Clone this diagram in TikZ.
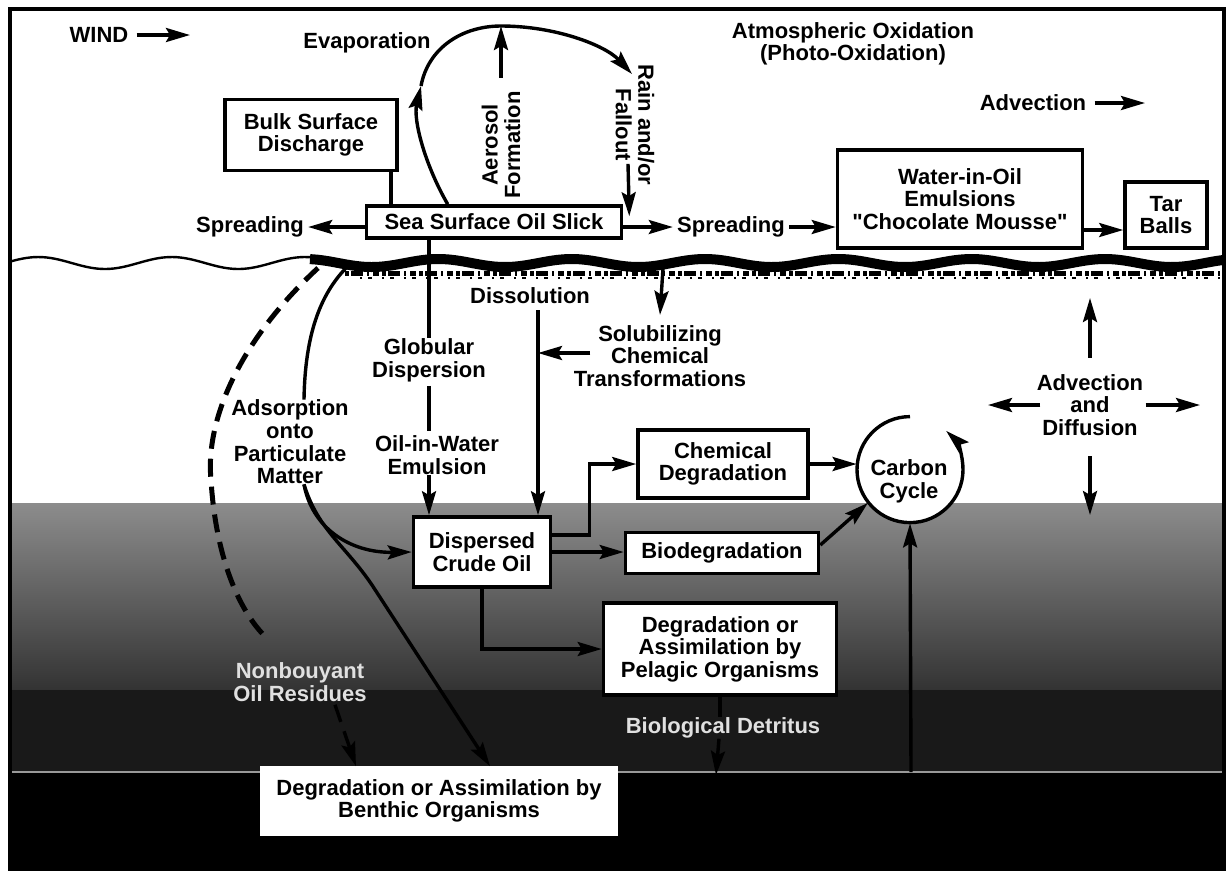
\documentclass[tikz,border=0pt]{standalone}
\usepackage{fontspec}
\setmainfont{Liberation Sans}[Ligatures=TeXOff]
\usetikzlibrary{arrows.meta,calc}

\tikzset{
  box/.style={draw, fill=white, line width=1.8pt, inner sep=0pt, align=center},
  lbl/.style={inner sep=0pt, align=center},
  ghost/.style={lbl, text=white!88!black},
  ln/.style={line width=1.7pt},
  arr/.style={ln, -{Stealth[length=12pt,width=7pt,inset=2pt]}},
}

\begin{document}
\begin{tikzpicture}[x=0.5pt,y=-0.5pt,font=\bfseries\fontsize{11}{11.3}\selectfont]
  \useasboundingbox (0,0) rectangle (1230,875);

  % water column, darker with depth
  \shade[top color=black!45, bottom color=black!80] (10,503) rectangle (1224,690);
  \fill[black!90] (10,690) rectangle (1224,772);
  \fill[black] (10,772) rectangle (1224,869);
  \draw[white!60!black, line width=0.6pt] (10,772) -- (1224,772);

  % sea surface and oil film
  \draw[line width=1.2pt] plot[smooth, domain=10:320, samples=40] (\x,{263-6*sin(2.7*(\x-5))});
  \draw[line width=5pt] plot[smooth, domain=310:1224, samples=120] (\x,{263-4*sin(2.7*(\x-5))});
  \draw[line width=2.5pt, dash pattern=on 2pt off 1pt on 6pt off 2pt on 1pt off 2pt on 3pt off 1.5pt] (345,273) -- (1224,273);
  \draw[line width=1.2pt, dash pattern=on 1pt off 3pt on 2pt off 5pt] (360,278) -- (1224,278);

  % labels
  \node[lbl] (wind) at (99,35) {WIND};
  \node[lbl] (evap) at (367,43) {Evaporation};
  \node[lbl,rotate=90] (aerosol) at (501,145) {Aerosol\\Formation};
  \node[lbl,rotate=-90] (rain) at (635,125) {Rain and/or\\Fallout};
  \node[lbl] (atmox) at (853,44) {Atmospheric Oxidation\\(Photo-Oxidation)};
  \node[lbl] (advtop) at (1033,103) {Advection};
  \node[lbl] (spreadL) at (250,227) {Spreading};
  \node[lbl] (spreadR) at (731,227) {Spreading};
  \node[lbl] (dissol) at (530,296) {Dissolution};
  \node[lbl] (glob) at (429,360) {Globular\\Dispersion};
  \node[lbl] (oilw) at (437,455) {Oil-in-Water\\Emulsion};
  \node[lbl] (solub) at (660,356) {Solubilizing\\Chemical\\Transformations};
  \node[lbl] (adsorb) at (290,442) {Adsorption\\onto\\Particulate\\Matter};
  \node[lbl] (advdiff) at (1090,405) {Advection\\and\\Diffusion};
  \node[ghost] (nonbuoy) at (300,682) {Nonbouyant\\Oil Residues};
  \node[ghost] (detritus) at (723,728) {Biological Detritus};

  % boxes
  \node[box,minimum width=86pt,minimum height=35.5pt] (bulk) at (311,135) {Bulk Surface\\Discharge};
  \node[box,minimum width=127.5pt,minimum height=16pt] (slick) at (494,222) {Sea Surface Oil Slick};
  \node[box,minimum width=122.5pt,minimum height=49pt] (emul) at (960,199) {Water-in-Oil\\Emulsions\\"Chocolate Mousse"};
  \node[box,minimum width=41pt,minimum height=33pt] (tar) at (1166,215) {Tar\\Balls};
  \node[box,minimum width=68.5pt,minimum height=35pt] (disp) at (482,552) {Dispersed\\Crude Oil};
  \node[box,minimum width=85pt,minimum height=34pt] (chem) at (723,464) {Chemical\\Degradation};
  \node[box,minimum width=96.5pt,minimum height=20.5pt] (bio) at (722,553) {Biodegradation};
  \node[box,minimum width=116.5pt,minimum height=46pt] (pel) at (720,649) {Degradation or\\Assimilation by\\Pelagic Organisms};
  \node[box,draw=white,line width=0.8pt,minimum width=178pt,minimum height=34pt] (benth) at (439,801) {Degradation or Assimilation by\\Benthic Organisms};
  \node[circle,fill=white,inner sep=0pt,minimum size=53pt] (cc) at (910,470) {};
  \node[lbl] (cctext) at (909,481) {Carbon\\Cycle};

  % free ends
  \coordinate (windtip) at (190,35);
  \coordinate (advtip) at (1145,103);
  \coordinate (evleft) at (421,86);
  \coordinate (evtop) at (501,26);
  \coordinate (evright) at (632,74);
  \coordinate (adtop) at (346,268);
  \coordinate (dstop) at (318,268);
  \coordinate (sf) at (663,268);
  \coordinate (adup) at (1090,298);
  \coordinate (addown) at (1090,515);
  \coordinate (adleft) at (988,405);
  \coordinate (adright) at (1200,405);
  \coordinate (ccfoot) at (911,772);
  \coordinate (detfoot) at (716,775);

  % atmosphere
  \draw[arr] ([xshift=4pt]wind.east) -- (windtip);
  \draw[arr] ([xshift=4pt]advtop.east) -- (advtip);
  \draw[ln] ([xshift=-4pt]bulk.south east) -- ([xshift=-4pt]bulk.south east |- slick.north);
  \draw[arr] (slick.west |- spreadL.east) -- ([xshift=2pt]spreadL.east);
  \draw[arr] (slick.east |- spreadR.west) -- ([xshift=-2pt]spreadR.west);
  \draw[arr] ([xshift=2pt]spreadR.east) -- (spreadR.east -| emul.west);
  \draw[arr] ([yshift=-15.5pt]emul.east) -- ([yshift=-15.5pt]emul.east -| tar.west);
  \draw[arr] ([xshift=41.5pt]slick.north west) .. controls (425,165) and (413,120) .. (evleft);
  \draw[ln] (evleft) .. controls (428,48) and (462,26) .. (evtop);
  \draw[arr] (evtop) .. controls (555,26) and (605,45) .. (evright);
  \draw[arr] ([yshift=6.5pt]aerosol.east) -- (evtop);
  \draw[arr] ($(rain.east)+(-7,-22)$) -- ($(slick.north east)+(6,12)$);

  % water column
  \draw[ln] (glob.north |- slick.south) -- (glob.north);
  \draw[ln,shorten <=2pt,shorten >=2pt] (glob.south) -- (glob.south |- oilw.north);
  \draw[arr] (glob.south |- oilw.south) -- (glob.south |- disp.north);
  \coordinate (dl) at ([xshift=4pt]dissol.south);
  \draw[arr,shorten <=3pt] (dl) -- (dl |- disp.north);
  \coordinate (sa) at ($(solub.west)+(17,-3)$);
  \draw[arr] (sa) -- (sa -| dl);
  \draw[arr] (sf) -- ([yshift=5pt]solub.north);
  \draw[ln] (adtop) .. controls (320,295) and (305,335) .. (adsorb.north -| 304,0);
  \draw[arr] (adsorb.south -| 304,0) .. controls (312,528) and (350,553) .. (disp.west);
  \draw[arr] (adsorb.south -| 304,0) .. controls (318,530) and (345,545) .. (372,585) -- ($(benth.north)+(51,0)$);
  \draw[ln,line width=2.5pt,dash pattern=on 9pt off 5pt] (dstop) .. controls (240,340) and (205,420) .. (211,480) .. controls (216,560) and (240,610) .. ($(nonbuoy.north west)+(30,-28)$);
  \draw[arr,dash pattern=on 9pt off 5pt] ($(nonbuoy.south)+(35,3)$) -- ($(benth.north)+(-83,0)$);
  \draw[arr] ([yshift=8.5pt]disp.east) -- ++(37,0) |- (chem.west);
  \draw[arr] (disp.east) -- (disp.east -| bio.west);
  \draw[arr] (disp.south) |- (pel.west);
  \draw[arr] (chem.east) -- (chem.east -| cc.west);
  \draw[arr] ([yshift=4pt]bio.east) -- (cc.218);
  \draw[arr] (ccfoot) -- (cc.south);
  \draw[arr] (cc.90) arc[start angle=90, end angle=407, radius=26.5pt];
  \draw[ln] (pel.south) -- (pel.south |- detritus.north);
  \draw[arr] ([xshift=-2pt]detritus.south) -- (detfoot);
  \draw[arr] ([yshift=8pt]advdiff.north) -- (adup);
  \draw[arr] ([yshift=-10pt]advdiff.south) -- (addown);
  \draw[arr] ([xshift=2pt]advdiff.west) -- (adleft);
  \draw[arr] ([xshift=1pt]advdiff.east) -- (adright);

  % frame
  \draw[line width=1.6pt] (10,9) rectangle (1224,869);
\end{tikzpicture}
\end{document}
